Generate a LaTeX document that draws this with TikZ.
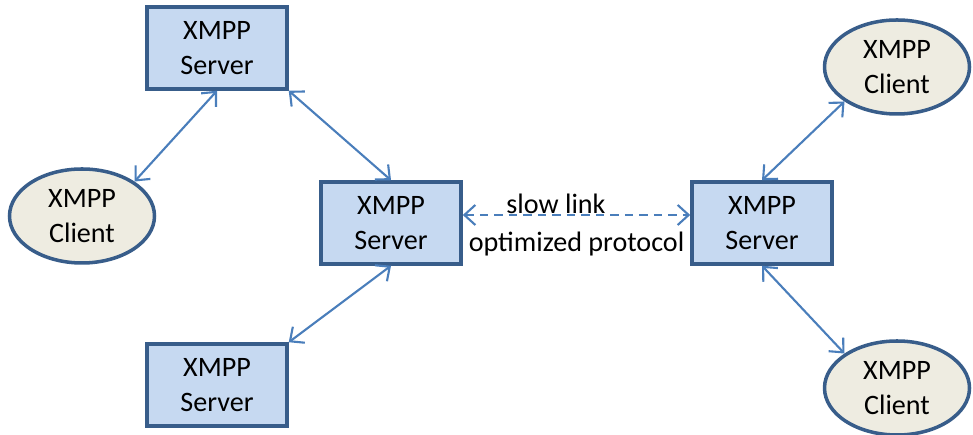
\documentclass[tikz,border=0pt]{standalone}
\usepackage{fontspec}
\setmainfont{Carlito}
\usepackage{tikz}
\usetikzlibrary{shapes.geometric, arrows.meta, positioning}
\definecolor{boxfill}{HTML}{C6D9F1}
\definecolor{boxline}{HTML}{385D8A}
\definecolor{ovalfill}{HTML}{EEECE1}
\definecolor{linkblue}{HTML}{4A7EBB}
\tikzset{
  server/.style={rectangle, draw=boxline, line width=2pt, fill=boxfill,
    minimum width=2.8cm, minimum height=1.64cm, align=center,
    font=\fontsize{16}{20}\selectfont},
  client/.style={ellipse, draw=boxline, line width=2pt, fill=ovalfill,
    minimum width=2.9cm, minimum height=1.88cm, inner sep=0pt, align=center,
    font=\fontsize{16}{20}\selectfont},
  link/.style={draw=linkblue, line width=1.2pt, {Straight Barb[length=2.2mm,width=4mm]}-{Straight Barb[length=2.2mm,width=4mm]}}
}

\begin{document}
\begin{tikzpicture}
    \useasboundingbox (0,0) rectangle (19.46,8.7);

    % Draw servers
    \node[server] (srvtop) at (4.34,7.74) {XMPP\\Server};
    \node[server] (srvmid) at (7.82,4.24) {XMPP\\Server};
    \node[server] (srvlow) at (4.34,1.0) {XMPP\\Server};
    \node[server] (srvright) at (15.24,4.24) {XMPP\\Server};

    % Draw clients
    \node[client] (cltleft) at (1.64,4.38) {XMPP\\Client};
    \node[client] (cltup) at (17.94,7.36) {XMPP\\Client};
    \node[client] (cltdown) at (17.94,0.94) {XMPP\\Client};

    % Links
    \draw[link] (srvtop.south) -- (cltleft.north east);
    \draw[link] (srvtop.south east) -- (srvmid.north);
    \draw[link] (srvmid.south) -- (srvlow.north east);
    \draw[link] (srvright.north) -- (cltup.south west);
    \draw[link] (srvright.south) -- (cltdown.north west);

    % Slow link
    \draw[link, dash pattern=on 0.17cm off 0.12cm]
        ([yshift=0.16cm]srvmid.east) -- ([yshift=0.16cm]srvright.west)
        node[pos=0.41, anchor=base, font=\fontsize{16}{18}\selectfont, yshift=0.03cm] (slow) {slow link}
        node[pos=0.5, below=0.2cm, font=\fontsize{16}{18}\selectfont] (proto) {optimized protocol};
\end{tikzpicture}
\end{document}
